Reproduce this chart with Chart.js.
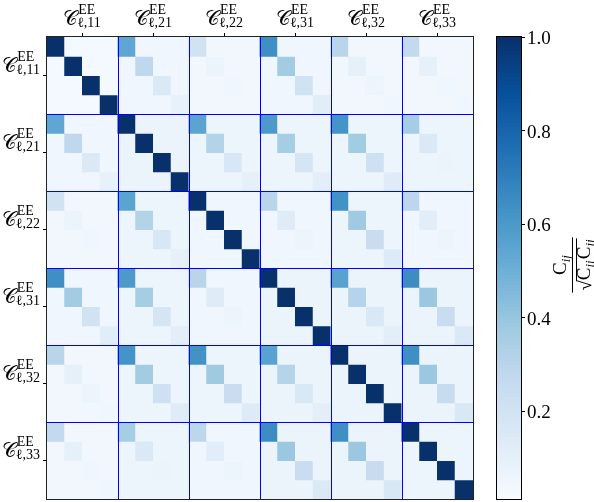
<!DOCTYPE html>
<html>
<head>
<meta charset="utf-8">
<script src="https://cdn.jsdelivr.net/npm/chart.js@4.4.0/dist/chart.umd.min.js"></script>
<style>
  html, body { margin: 0; padding: 0; background: #fff; }
  #wrap { position: relative; width: 594px; height: 502px; }
  #matriz { position: absolute; left: 0; top: 0; }
  #barra { position: absolute; left: 480px; top: 0; }
</style>
</head>
<body>
<div id="wrap">
  <canvas id="matriz" width="490" height="502"></canvas>
  <canvas id="barra" width="114" height="502"></canvas>
</div>
<script>
// Bloques del espectro (C_l^EE de cada par de bins) y numero de bins en l por bloque
const bloques = ['11', '21', '22', '31', '32', '33'];
const binsPorBloque = 4;

// Diagonal de cada bloque cruzado (fila, columna)
const d_11_21 = [0.54, 0.28, 0.15, 0.09];
const d_11_22 = [0.20, 0.07, 0.05, 0.04];
const d_11_31 = [0.64, 0.37, 0.20, 0.12];
const d_11_32 = [0.30, 0.10, 0.06, 0.05];
const d_11_33 = [0.27, 0.10, 0.05, 0.05];
const d_21_22 = [0.55, 0.32, 0.17, 0.10];
const d_21_31 = [0.60, 0.36, 0.18, 0.11];
const d_21_32 = [0.62, 0.37, 0.22, 0.13];
const d_21_33 = [0.36, 0.15, 0.07, 0.06];
const d_22_31 = [0.30, 0.13, 0.06, 0.05];
const d_22_32 = [0.63, 0.38, 0.24, 0.14];
const d_22_33 = [0.29, 0.12, 0.06, 0.05];
const d_31_32 = [0.56, 0.31, 0.16, 0.11];
const d_31_33 = [0.65, 0.39, 0.24, 0.15];
const d_32_33 = [0.64, 0.39, 0.25, 0.16];

// Valor fuera de la diagonal dentro de cada bloque (simetrico)
const fondoBloque = [
    [0.03, 0.05, 0.04, 0.05, 0.04, 0.04],
    [0.05, 0.07, 0.06, 0.06, 0.06, 0.06],
    [0.04, 0.06, 0.05, 0.05, 0.06, 0.05],
    [0.05, 0.06, 0.05, 0.07, 0.07, 0.07],
    [0.04, 0.06, 0.06, 0.07, 0.07, 0.07],
    [0.04, 0.06, 0.05, 0.07, 0.07, 0.06]
];

// Rango del colorbar y sus ticks
const escalaMin = 0.012;
const escalaMax = 1.0;
const ticksBarra = [0.2, 0.4, 0.6, 0.8, 1.0];

// Mapa de colores "Blues"
const azules = ['#f7fbff', '#deebf7', '#c6dbef', '#9ecae1', '#6baed6', '#4292c6', '#2171b5', '#08519c', '#08306b'];

const diagCruzada = {
    '0-1': d_11_21, '0-2': d_11_22, '0-3': d_11_31, '0-4': d_11_32, '0-5': d_11_33,
    '1-2': d_21_22, '1-3': d_21_31, '1-4': d_21_32, '1-5': d_21_33,
    '2-3': d_22_31, '2-4': d_22_32, '2-5': d_22_33,
    '3-4': d_31_32, '3-5': d_31_33,
    '4-5': d_32_33
};

const N = bloques.length * binsPorBloque;
const fuenteSerif = "'Liberation Serif', 'DejaVu Serif', serif";

// Armar la matriz de correlacion a partir de los bloques
const matriz = [];
for (let i = 0; i < N; i++) {
    const fila = [];
    for (let j = 0; j < N; j++) {
        const bi = Math.floor(i / binsPorBloque), bj = Math.floor(j / binsPorBloque);
        const ki = i % binsPorBloque, kj = j % binsPorBloque;
        let valor = fondoBloque[bi][bj];
        if (ki === kj) {
            if (bi === bj) valor = 1.0;
            else valor = diagCruzada[Math.min(bi, bj) + '-' + Math.max(bi, bj)][ki];
        }
        fila.push(valor);
    }
    matriz.push(fila);
}

function hexARgb(h) {
    return [parseInt(h.slice(1, 3), 16), parseInt(h.slice(3, 5), 16), parseInt(h.slice(5, 7), 16)];
}
// Color de un valor segun el mapa Blues
function colorBlues(v) {
    let t = (v - escalaMin) / (escalaMax - escalaMin);
    t = Math.max(0, Math.min(1, t));
    const pos = t * (azules.length - 1);
    const k = Math.min(Math.floor(pos), azules.length - 2);
    const f = pos - k;
    const a = hexARgb(azules[k]), b = hexARgb(azules[k + 1]);
    const c = a.map((x, n) => Math.round(x + (b[n] - x) * f));
    return `rgb(${c[0]},${c[1]},${c[2]})`;
}

const centrosBloque = bloques.map((b, n) => n * binsPorBloque + binsPorBloque / 2);
const bordesBloque = bloques.slice(1).map((b, n) => (n + 1) * binsPorBloque);

// Un dataset por fila: barras flotantes de una celda de alto
const datasets = matriz.map((fila, r) => ({
    data: fila.map((v, c) => ({ x: c + 0.5, y: [r, r + 1] })),
    backgroundColor: fila.map(v => colorBlues(v)),
    borderWidth: 0,
    inflateAmount: 0.5,
    grouped: false,
    barPercentage: 1,
    categoryPercentage: 1
}));

// Etiqueta tipo C^{EE}_{l,ij}
function dibujarEtiqueta(ctx, sufijo, x, base, alinear) {
    ctx.font = `20px ${fuenteSerif}`;
    const wC = ctx.measureText('𝒞').width;
    ctx.font = `14px ${fuenteSerif}`;
    const wSup = ctx.measureText('EE').width;
    const wSub = ctx.measureText('ℓ,' + sufijo).width;
    const total = wC + Math.max(wSup, wSub);
    const x0 = alinear === 'center' ? x - total / 2 : x - total;
    ctx.fillStyle = '#000';
    ctx.textAlign = 'left';
    ctx.textBaseline = 'alphabetic';
    ctx.font = `20px ${fuenteSerif}`;
    ctx.fillText('𝒞', x0, base);
    ctx.font = `14px ${fuenteSerif}`;
    ctx.fillText('EE', x0 + wC, base - 11);
    ctx.fillText('ℓ,' + sufijo, x0 + wC - 1, base + 2);
}

const etiquetasMatriz = {
    id: 'etiquetasMatriz',
    afterDraw(chart) {
        const ctx = chart.ctx;
        const { left, top, right, bottom } = chart.chartArea;
        ctx.save();
        ctx.strokeStyle = '#222';
        ctx.lineWidth = 1;
        ctx.strokeRect(left - 0.5, top - 0.5, right - left + 1, bottom - top + 1);
        centrosBloque.forEach((v, n) => {
            dibujarEtiqueta(ctx, bloques[n], chart.scales.x.getPixelForValue(v), 25, 'center');
            dibujarEtiqueta(ctx, bloques[n], 41, chart.scales.y.getPixelForValue(v) - 4, 'right');
        });
        ctx.restore();
    }
};

new Chart(document.getElementById('matriz'), {
    type: 'bar',
    data: { datasets: datasets },
    options: {
        responsive: false,
        animation: false,
        layout: { padding: { right: 17, bottom: 3 } },
        plugins: { legend: { display: false }, tooltip: { enabled: false } },
        scales: {
            x: {
                type: 'linear', position: 'top', min: 0, max: N, offset: false,
                afterBuildTicks: ax => { ax.ticks = centrosBloque.map(v => ({ value: v })); },
                afterFit: ax => { ax.height = 37; },
                ticks: { display: false },
                grid: { drawOnChartArea: false, offset: false, tickLength: 4, color: '#000' },
                border: { display: false }
            },
            xBloques: {
                type: 'linear', position: 'top', min: 0, max: N, offset: false,
                afterBuildTicks: ax => { ax.ticks = bordesBloque.map(v => ({ value: v })); },
                afterFit: ax => { ax.height = 0; },
                ticks: { display: false },
                grid: { z: 1, drawOnChartArea: true, drawTicks: false, offset: false, color: '#0000ff', lineWidth: 1 },
                border: { display: false }
            },
            y: {
                type: 'linear', position: 'left', min: 0, max: N, reverse: true,
                afterBuildTicks: ax => { ax.ticks = centrosBloque.map(v => ({ value: v })); },
                afterFit: ax => { ax.width = 47; },
                ticks: { display: false },
                grid: { drawOnChartArea: false, tickLength: 4, color: '#000' },
                border: { display: false }
            },
            yBloques: {
                type: 'linear', position: 'left', min: 0, max: N, reverse: true,
                afterBuildTicks: ax => { ax.ticks = bordesBloque.map(v => ({ value: v })); },
                afterFit: ax => { ax.width = 0; },
                ticks: { display: false },
                grid: { z: 1, drawOnChartArea: true, drawTicks: false, color: '#0000ff', lineWidth: 1 },
                border: { display: false }
            }
        }
    },
    plugins: [etiquetasMatriz]
});

// Colorbar
function gradienteBarra(chart) {
    const y = chart.scales.y;
    if (!y) return azules[4];
    const p0 = y.getPixelForValue(escalaMin), p1 = y.getPixelForValue(escalaMax);
    if (!isFinite(p0) || !isFinite(p1)) return azules[4];
    const g = chart.ctx.createLinearGradient(0, p0, 0, p1);
    azules.forEach((c, n) => g.addColorStop(n / (azules.length - 1), c));
    return g;
}

const tituloBarra = {
    id: 'tituloBarra',
    afterDraw(chart) {
        const ctx = chart.ctx;
        const { left, top, right, bottom } = chart.chartArea;
        ctx.save();
        ctx.strokeStyle = '#000';
        ctx.lineWidth = 1;
        ctx.strokeRect(left - 0.5, top - 0.5, right - left + 1, bottom - top + 1);
        // fraccion C_ij / sqrt(C_ii C_jj) girada
        ctx.translate(92, 265);
        ctx.rotate(-Math.PI / 2);
        ctx.fillStyle = '#000';
        ctx.strokeStyle = '#000';
        ctx.textBaseline = 'alphabetic';
        ctx.textAlign = 'left';
        const fGrande = `19px ${fuenteSerif}`, fChica = `italic 13px ${fuenteSerif}`;
        // numerador
        ctx.font = fGrande; const wC = ctx.measureText('C').width;
        ctx.font = fChica; const wij = ctx.measureText('ij').width;
        let x0 = -(wC + wij) / 2;
        ctx.font = fGrande; ctx.fillText('C', x0, -6);
        ctx.font = fChica; ctx.fillText('ij', x0 + wC, -2);
        // denominador
        ctx.font = fGrande; const wR = ctx.measureText('√').width;
        ctx.font = fChica; const wii = ctx.measureText('ii').width, wjj = ctx.measureText('jj').width;
        const wD = wR + wC + wii + 1 + wC + wjj;
        x0 = -wD / 2;
        ctx.font = fGrande; ctx.fillText('√', x0, 19);
        let xx = x0 + wR;
        ctx.fillText('C', xx, 18); xx += wC;
        ctx.font = fChica; ctx.fillText('ii', xx, 22); xx += wii + 1;
        ctx.font = fGrande; ctx.fillText('C', xx, 18); xx += wC;
        ctx.font = fChica; ctx.fillText('jj', xx, 22); xx += wjj;
        ctx.lineWidth = 1;
        ctx.beginPath();
        ctx.moveTo(x0 + wR - 1, 4.5); ctx.lineTo(xx + 1, 4.5);
        ctx.moveTo(-wD / 2 - 2, 0.5); ctx.lineTo(wD / 2 + 2, 0.5);
        ctx.stroke();
        ctx.restore();
    }
};

new Chart(document.getElementById('barra'), {
    type: 'bar',
    data: {
        labels: [''],
        datasets: [{
            data: [[escalaMin, escalaMax]],
            backgroundColor: c => gradienteBarra(c.chart),
            borderWidth: 0,
            barPercentage: 1,
            categoryPercentage: 1
        }]
    },
    options: {
        responsive: false,
        animation: false,
        layout: { padding: { left: 17, top: 37, bottom: 3 } },
        plugins: { legend: { display: false }, tooltip: { enabled: false } },
        scales: {
            x: { display: false },
            y: {
                position: 'right', min: escalaMin, max: escalaMax,
                afterBuildTicks: ax => { ax.ticks = ticksBarra.map(v => ({ value: v })); },
                // ancho fijo y sin relleno extra por las etiquetas de los extremos
                afterFit: ax => { ax.width = 73; ax.paddingTop = 0; ax.paddingBottom = 0; },
                ticks: { callback: v => v.toFixed(1), color: '#000', padding: 2, labelOffset: 2, font: { family: fuenteSerif, size: 19 } },
                grid: { drawOnChartArea: false, tickLength: 4, color: '#000' },
                border: { display: false }
            }
        }
    },
    plugins: [tituloBarra]
});
</script>
</body>
</html>
